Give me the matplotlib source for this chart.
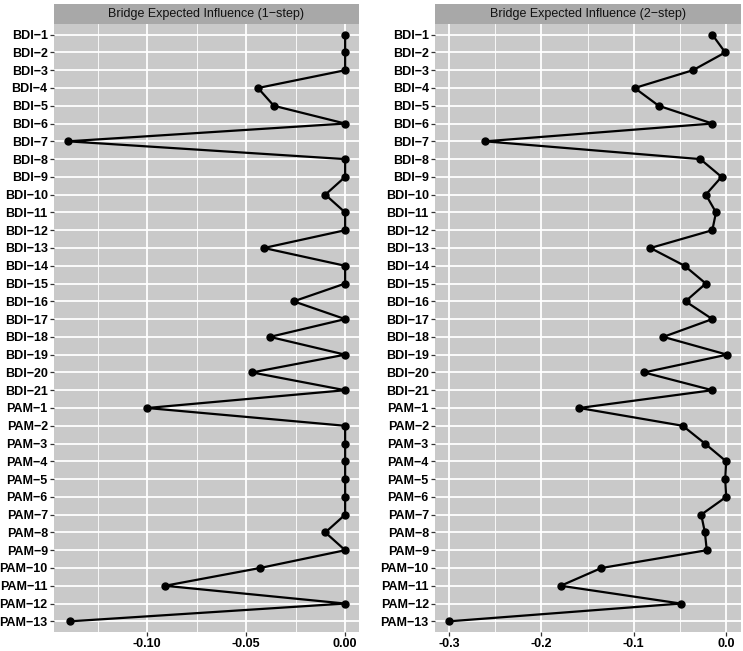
import numpy as np
import matplotlib
matplotlib.use("Agg")
import matplotlib.pyplot as plt
from matplotlib.ticker import FixedLocator, FormatStrFormatter

plt.rcParams['font.family'] = ['Liberation Sans', 'DejaVu Sans']
plt.rcParams['axes.unicode_minus'] = True

# ---- data ----
nodes = [f"BDI\u2212{i}" for i in range(1, 22)] + [f"PAM\u2212{i}" for i in range(1, 14)]

bei_1step = [0.0, 0.0, 0.0, -0.044, -0.036, 0.0, -0.140,
             0.0, 0.0, -0.010, 0.0, 0.0, -0.041, 0.0,
             0.0, -0.026, 0.0, -0.038, 0.0, -0.047, 0.0,
             -0.100, 0.0, 0.0, 0.0, 0.0, 0.0, 0.0,
             -0.010, 0.0, -0.043, -0.091, 0.0, -0.139]

bei_2step = [-0.015, -0.001, -0.036, -0.099, -0.073, -0.015, -0.261,
             -0.028, -0.005, -0.022, -0.011, -0.015, -0.082, -0.045,
             -0.022, -0.044, -0.015, -0.068, 0.001, -0.089, -0.015,
             -0.159, -0.047, -0.023, 0.0, -0.001, 0.0, -0.027,
             -0.023, -0.021, -0.135, -0.179, -0.049, -0.300]

titles = ["Bridge Expected Influence (1\u2212step)", "Bridge Expected Influence (2\u2212step)"]
major_ticks = [[-0.10, -0.05, 0.00], [-0.3, -0.2, -0.1, 0.0]]
minor_ticks = [[-0.125, -0.075, -0.025], [-0.25, -0.15, -0.05]]
tick_fmt = ["%.2f", "%.1f"]

PANEL_BG = '#c9c9c9'
STRIP_BG = '#a8a8a8'

W, H = 743, 651
fig = plt.figure(figsize=(W / 100, H / 100), dpi=100)

panels = [(54, 359), (435, 741)]
top_px, bot_px = 24, 632
strip_top = 4

y = np.arange(len(nodes))[::-1]

for k, (vals, (x0, x1)) in enumerate(zip([bei_1step, bei_2step], panels)):
    ax = fig.add_axes([x0 / W, (H - bot_px) / H, (x1 - x0) / W, (bot_px - top_px) / H])
    ax.set_facecolor(PANEL_BG)
    for s in ax.spines.values():
        s.set_visible(False)

    lo, hi = min(vals), max(vals)
    pad = (hi - lo) * 0.05
    ax.set_xlim(lo - pad, hi + pad)
    ax.set_ylim(-0.6, len(nodes) - 0.4)

    ax.xaxis.set_major_locator(FixedLocator(major_ticks[k]))
    ax.xaxis.set_minor_locator(FixedLocator(minor_ticks[k]))
    ax.xaxis.set_major_formatter(FormatStrFormatter(tick_fmt[k]))
    ax.set_yticks(y)
    ax.set_yticklabels(nodes)

    ax.grid(which='major', color='white', linewidth=1.3)
    ax.grid(which='minor', axis='x', color='white', linewidth=0.6)
    ax.set_axisbelow(True)

    ax.tick_params(which='major', length=3, width=0.9, color='#333333',
                   labelsize=9, pad=1.5)
    ax.tick_params(which='minor', length=0)
    for lab in ax.get_xticklabels() + ax.get_yticklabels():
        lab.set_fontweight('bold')
        lab.set_color('black')

    ax.plot(vals, y, color='black', linewidth=1.6, marker='o', markersize=5,
            zorder=3, clip_on=False)

    # strip header
    sax = fig.add_axes([x0 / W, (H - top_px) / H, (x1 - x0) / W, (top_px - strip_top) / H])
    sax.set_facecolor(STRIP_BG)
    sax.set_xticks([])
    sax.set_yticks([])
    for s in sax.spines.values():
        s.set_visible(False)
    sax.text(0.5, 0.5, titles[k], ha='center', va='center', fontsize=9,
             color='#111111', transform=sax.transAxes)

fig.savefig("out.png", dpi=100)
